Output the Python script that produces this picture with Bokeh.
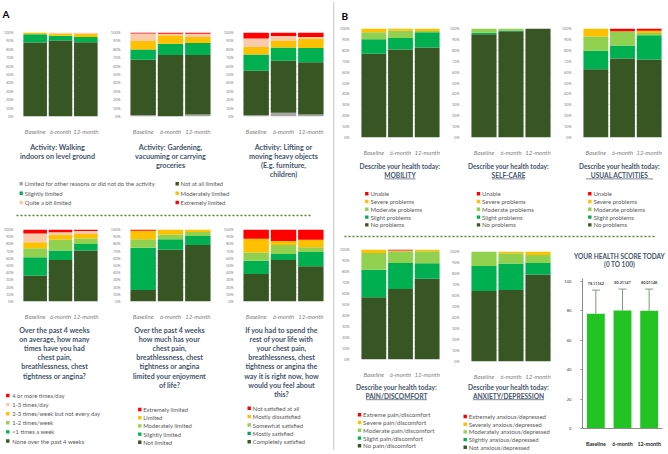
from bokeh.plotting import figure
from bokeh.models import (Range1d, FactorRange, FixedTicker, PrintfTickFormatter,
                          GridBox, ColumnDataSource, Whisker, TeeHead)
from bokeh.core.properties import value
from bokeh.embed import file_html
from bokeh.resources import INLINE

# ---------------- data ----------------
periods = ["Baseline", "6-month", "12-month"]
pct_ticks = [0, 10, 20, 30, 40, 50, 60, 70, 80, 90, 100]
score_ticks = [0, 20, 40, 60, 80, 100]

DARK, GREEN, LGREEN, YELLOW, PEACH, RED, GRAY = (
    "#375623", "#00b050", "#92d050", "#ffc000", "#f8cbad", "#ff0000", "#a6a6a6")

walk_other    = [0.0, 0.0, 0.0]
walk_not      = [88.0, 90.5, 88.5]
walk_slight   = [10.0, 5.5, 6.0]
walk_moderate = [2.0, 2.8, 4.0]
walk_quite    = [0.0, 1.2, 1.5]
walk_extreme  = [0.0, 0.0, 0.0]
gard_other    = [1.5, 0.0, 2.3]
gard_not      = [66.2, 73.3, 71.0]
gard_slight   = [12.0, 13.2, 14.3]
gard_moderate = [10.1, 10.1, 7.1]
gard_quite    = [9.1, 1.9, 3.8]
gard_extreme  = [1.1, 1.5, 1.5]
lift_other    = [1.5, 4.5, 2.3]
lift_not      = [53.0, 62.0, 62.4]
lift_slight   = [19.2, 15.5, 16.9]
lift_moderate = [9.0, 8.6, 11.3]
lift_quite    = [10.2, 5.3, 1.8]
lift_extreme  = [7.1, 4.1, 5.3]
activity_labels = ["Limited for other reasons or did not do the activity", "Not at all limited",
                   "Slightly limited", "Moderately limited", "Quite a bit limited", "Extremely limited"]

freq_none   = [35.9, 57.6, 71.0]
freq_lt1    = [25.6, 13.4, 8.7]
freq_1_2wk  = [12.5, 15.1, 7.7]
freq_2_3wk  = [8.3, 6.5, 6.5]
freq_1_3day = [12.1, 3.5, 3.9]
freq_4day   = [5.6, 3.9, 2.2]
freq_labels = ["4 or more times/day", "1-3 times/day", "2-3 times/week but not every day",
               "1-2 times/week", "<1 times a week", "None over the past 4 weeks"]
enj_not      = [16.0, 71.9, 78.4]
enj_slight   = [58.5, 14.7, 12.5]
enj_moderate = [12.1, 6.5, 5.6]
enj_limited  = [11.7, 6.9, 3.5]
enj_extreme  = [1.7, 0.0, 0.0]
enj_labels = ["Extremely limited", "Limited", "Moderately limited", "Slightly limited", "Not limited"]
sat_complete = [38.1, 57.6, 48.9]
sat_mostly   = [18.6, 8.2, 19.9]
sat_somewhat = [11.3, 12.6, 6.5]
sat_dissat   = [19.0, 5.6, 10.4]
sat_not      = [13.0, 16.0, 14.3]
sat_labels = ["Not satisfied at all", "Mostly dissatisfied", "Somewhat satisfied",
              "Mostly satisfied", "Completely satisfied"]

mob_none, mob_slight, mob_mod, mob_sev, mob_unable = (
    [76.9, 80.7, 82.5], [13.2, 10.5, 14.0], [6.4, 6.8, 1.2], [3.5, 2.0, 2.3], [0.0, 0.0, 0.0])
self_none, self_slight, self_mod, self_sev, self_unable = (
    [94.7, 97.4, 100.0], [1.5, 0.8, 0.0], [3.8, 1.8, 0.0], [0.0, 0.0, 0.0], [0.0, 0.0, 0.0])
usual_none, usual_slight, usual_mod, usual_sev, usual_unable = (
    [62.6, 72.5, 71.6], [16.9, 12.0, 22.3], [13.2, 12.9, 2.0], [7.3, 0.0, 2.1], [0.0, 2.6, 2.0])
pain_none, pain_slight, pain_mod, pain_sev, pain_ext = (
    [56.7, 64.0, 73.5], [25.0, 23.8, 14.0], [15.1, 10.7, 10.8], [3.2, 0.5, 1.7], [0.0, 1.0, 0.0])
anx_none, anx_slight, anx_mod, anx_sev, anx_ext = (
    [64.2, 65.1, 79.0], [22.7, 23.9, 10.5], [13.1, 9.5, 7.3], [0.0, 1.5, 3.2], [0.0, 0.0, 0.0])
eq_labels = ["Unable", "Severe problems", "Moderate problems", "Slight problems", "No problems"]
pain_labels = ["Extreme pain/discomfort", "Severe pain/discomfort", "Moderate pain/discomfort",
               "Slight pain/discomfort", "No pain/discomfort"]
anx_labels = ["Extremely anxious/depressed", "Severely anxious/depressed", "Moderately anxious/depressed",
              "Slightly anxious/depressed", "Not anxious/depressed"]

score_mean = [78.11162, 80.21147, 80.01148]
score_upper = [94.1, 94.8, 94.8]

# ---------------- layout helpers ----------------
FONT = "Lato"
TITLE_C = "#44546a"
LEG_C = "#595959"
DOT_C = "#548235"

items = []


def base_fig(x0, y0, x1, y1, **kw):
    p = figure(width=int(x1 - x0), height=int(y1 - y0), output_backend="svg",
               toolbar_location=None, title=None, **kw)
    p.outline_line_color = None
    p.background_fill_color = None
    p.border_fill_color = None
    items.append((p, x0, y0, x1, y1))
    return p


def text_fig(x0, y0, x1, y1):
    p = base_fig(x0, y0, x1, y1, x_range=Range1d(x0, x1), y_range=Range1d(y1, y0),
                 x_axis_location=None, y_axis_location=None, min_border=0,
                 min_border_left=0, min_border_right=0, min_border_top=0, min_border_bottom=0)
    p.xgrid.visible = False
    p.ygrid.visible = False
    return p


def txt(p, xs, ys, texts, size, color, style="normal", align="left"):
    p.text(x=xs, y=ys, text=texts, text_font=value(FONT), text_font_size=value(f"{size}px"),
           text_font_style=style, text_color=color, text_align=align, text_baseline="middle")


def title_lines(p, cx, y_start, step, lines, size):
    ys = [y_start + step * i for i in range(len(lines))]
    txt(p, [cx] * len(lines), ys, lines, size, TITLE_C, "bold", "center")


def legend(p, sq_x, tx_x, ys, labels, colors, size):
    n = len(labels)
    p.scatter(x=[sq_x] * n, y=ys, marker="square", size=3.4, fill_color=colors, line_color=None)
    txt(p, [tx_x] * n, ys, labels, size, LEG_C)


def stack_chart(rect, frame, series, colors, ystand=3):
    x0, y0, x1, y1 = rect
    fx0, fy0, fx1, fy1 = frame
    p = base_fig(x0, y0, x1, y1, x_range=FactorRange(*periods), y_range=Range1d(0, 100),
                 min_border_left=int(round(fx0 - x0)), min_border_right=int(round(x1 - fx1)),
                 min_border_top=int(round(fy0 - y0)), min_border_bottom=int(round(y1 - fy1)))
    data = {"period": periods}
    names = []
    for i, s in enumerate(series):
        data[f"s{i}"] = s
        names.append(f"s{i}")
    src = ColumnDataSource(data)
    p.vbar_stack(names, x="period", width=0.93, fill_color=colors, line_color=None, source=src)
    p.x_range.range_padding = 0
    p.yaxis.ticker = FixedTicker(ticks=pct_ticks)
    p.yaxis.formatter = PrintfTickFormatter(format="%d%%")
    p.yaxis.major_label_text_font_size = "3.8px"
    p.yaxis.major_label_text_font = FONT
    p.yaxis.major_label_text_color = "#7f7f7f"
    p.yaxis.axis_line_color = None
    p.yaxis.major_tick_line_color = None
    p.yaxis.minor_tick_line_color = None
    p.yaxis.major_label_standoff = ystand
    p.ygrid.ticker = FixedTicker(ticks=pct_ticks)
    p.ygrid.grid_line_color = "#d9d9d9"
    p.ygrid.grid_line_width = 0.6
    p.xgrid.grid_line_color = None
    p.xaxis.axis_line_color = None
    p.xaxis.major_tick_line_color = None
    p.xaxis.major_label_text_font = FONT
    p.xaxis.major_label_text_font_size = "6px"
    p.xaxis.major_label_text_font_style = "italic"
    p.xaxis.major_label_text_color = "#7f7f7f"
    p.xaxis.major_label_standoff = 5
    return p


# ---------------- panel A ----------------
ah = text_fig(1, 0, 330, 27)
txt(ah, [2], [13], ["A"], 10, "#000000", "bold")

act_colors = [GRAY, DARK, GREEN, YELLOW, PEACH, RED]
stack_chart((0, 28, 104, 137), (16, 32, 98, 121),
            [walk_other, walk_not, walk_slight, walk_moderate, walk_quite, walk_extreme], act_colors)
stack_chart((104, 28, 217, 137), (129, 32, 211, 121),
            [gard_other, gard_not, gard_slight, gard_moderate, gard_quite, gard_extreme], act_colors)
stack_chart((217, 28, 331, 137), (242, 32, 324, 121),
            [lift_other, lift_not, lift_slight, lift_moderate, lift_quite, lift_extreme], act_colors)

am = text_fig(1, 138, 330, 225)
title_lines(am, 57, 147, 9, ["Activity: Walking", "indoors on level ground"], 7.2)
title_lines(am, 170, 147, 9, ["Activity: Gardening,", "vacuuming or carrying", "groceries"], 7.2)
title_lines(am, 283, 147, 9, ["Activity: Lifting or", "moving heavy objects", "(E.g. furniture,", "children)"], 7.2)
legend(am, 20.7, 24.3, [183.3, 192.7, 202.0],
       [activity_labels[0], activity_labels[2], activity_labels[4]], [GRAY, GREEN, PEACH], 5.9)
legend(am, 176.7, 180.0, [183.3, 192.7, 202.0],
       [activity_labels[1], activity_labels[3], activity_labels[5]], [DARK, YELLOW, RED], 5.9)
am.segment(x0=[16], y0=[215], x1=[312], y1=[215], line_color=DOT_C, line_width=1.4, line_dash="2 2")

stack_chart((0, 226, 104, 322), (16, 229.3, 98, 306.3),
            [freq_none, freq_lt1, freq_1_2wk, freq_2_3wk, freq_1_3day, freq_4day],
            [DARK, GREEN, LGREEN, YELLOW, PEACH, RED])
stack_chart((104, 226, 217, 322), (129, 229.3, 211, 306.3),
            [enj_not, enj_slight, enj_moderate, enj_limited, enj_extreme],
            [DARK, GREEN, LGREEN, YELLOW, RED])
stack_chart((217, 226, 331, 322), (242, 229.3, 324, 306.3),
            [sat_complete, sat_mostly, sat_somewhat, sat_dissat, sat_not],
            [DARK, GREEN, LGREEN, YELLOW, RED])

ab = text_fig(1, 323, 330, 451)
title_lines(ab, 54, 330, 9.1, ["Over the past 4 weeks", "on average, how many", "times have you had",
                               "chest pain,", "breathlessness, chest", "tightness or angina?"], 7.1)
title_lines(ab, 169, 330, 9.1, ["Over the past 4 weeks", "how much has your", "chest pain,",
                                "breathlessness, chest", "tightness or angina", "limited your enjoyment",
                                "of life?"], 7.1)
title_lines(ab, 281, 330, 9.1, ["If you had to spend the", "rest of your life with", "your chest pain,",
                                "breathlessness, chest", "tightness or angina the", "way it is right now, how",
                                "would you feel about", "this?"], 7.1)
legend(ab, 7.3, 11.7, [395.0, 404.1, 413.2, 422.3, 431.4, 440.5], freq_labels,
       [RED, PEACH, YELLOW, LGREEN, GREEN, DARK], 5.9)
legend(ab, 139.3, 142.7, [409.0, 417.2, 425.4, 433.6, 441.8], enj_labels,
       [RED, YELLOW, LGREEN, GREEN, DARK], 5.9)
legend(ab, 248.7, 252.3, [407.7, 416.1, 424.5, 432.9, 441.3], sat_labels,
       [RED, YELLOW, LGREEN, GREEN, DARK], 5.9)

sep = text_fig(332, 1, 335, 451)
sep.segment(x0=[333.2], y0=[2], x1=[333.2], y1=[450], line_color="#a6a6a6", line_width=1.3, line_dash="1 1")

# ---------------- panel B ----------------
bh = text_fig(337, 0, 665, 23)
txt(bh, [341], [15], ["B"], 10, "#000000", "bold")

eq_colors = [DARK, GREEN, LGREEN, YELLOW, RED]
stack_chart((336, 24, 446, 158), (357, 28, 440, 142),
            [mob_none, mob_slight, mob_mod, mob_sev, mob_unable], eq_colors, 5)
stack_chart((446, 24, 557, 158), (469, 28, 551, 142),
            [self_none, self_slight, self_mod, self_sev, self_unable], eq_colors, 5)
stack_chart((557, 24, 666, 158), (581, 28, 662, 142),
            [usual_none, usual_slight, usual_mod, usual_sev, usual_unable], eq_colors, 5)

bm = text_fig(337, 159, 665, 243)
leg_cols = [RED, YELLOW, LGREEN, GREEN, DARK]
for cx, word, uw, sqx in [(399.5, "MOBILITY", 31, 366.3), (508, "SELF-CARE", 33, 478.0),
                          (619, "USUAL ACTIVITIES", 67, 589.3)]:
    title_lines(bm, cx, 165.7, 8.5, ["Describe your health today:", word], 6.6)
    bm.segment(x0=[cx - uw / 2], y0=[178.4], x1=[cx + uw / 2], y1=[178.4], line_color=TITLE_C, line_width=0.7)
    legend(bm, sqx, sqx + 3.6, [193.3, 201.0, 208.8, 216.6, 224.4], eq_labels, leg_cols, 6.0)
bm.segment(x0=[344], y0=[236], x1=[655], y1=[236], line_color=DOT_C, line_width=1.4, line_dash="2 2")

stack_chart((336, 244, 446, 380), (357, 248.7, 440, 363.3),
            [pain_none, pain_slight, pain_mod, pain_sev, pain_ext], eq_colors, 5)
stack_chart((446, 246, 557, 382), (469, 250.7, 551, 365.3),
            [anx_none, anx_slight, anx_mod, anx_sev, anx_ext], eq_colors, 5)

bb = text_fig(337, 383, 556, 451)
for cx, word, uw in [(396, "PAIN/DISCOMFORT", 61), (508, "ANXIETY/DEPRESSION", 71)]:
    title_lines(bb, cx, 386.6, 8.6, ["Describe your health today:", word], 6.6)
    bb.segment(x0=[cx - uw / 2], y0=[399.2], x1=[cx + uw / 2], y1=[399.2], line_color=TITLE_C, line_width=0.7)
legend(bb, 359.0, 362.6, [414.3, 422.0, 429.8, 437.6, 445.3], pain_labels, leg_cols, 6.2)
legend(bb, 464.7, 468.2, [416.0, 423.7, 431.4, 439.1, 446.7], anx_labels, leg_cols, 6.0)

ht = text_fig(558, 245, 665, 273)
title_lines(ht, 619, 256, 8.3, ["YOUR HEALTH SCORE TODAY", "(0 TO 100)"], 6.5)

hfx0, hfy0, hfx1, hfy1 = 582, 277.8, 665, 427.7
h = base_fig(557, 274, 666, 452, x_range=FactorRange(*periods), y_range=Range1d(0, 102),
             min_border_left=hfx0 - 557, min_border_right=666 - hfx1,
             min_border_top=int(round(hfy0 - 274)), min_border_bottom=int(round(452 - hfy1)))
h.x_range.range_padding = 0
hsrc = ColumnDataSource(dict(period=periods, mean=score_mean, upper=score_upper,
                             label=[f"{v:.5f}" for v in score_mean],
                             label_y=[u + 4.3 for u in score_upper]))
h.vbar(x="period", top="mean", width=0.67, fill_color="#22c322", line_color=None, source=hsrc)
h.add_layout(Whisker(source=hsrc, base="period", lower="mean", upper="upper", line_color="#7d9c7d",
                     line_width=1, upper_head=TeeHead(size=8, line_color="#7d9c7d", line_width=1),
                     lower_head=None))
h.text(x="period", y="label_y", text="label", source=hsrc, text_font=value(FONT),
       text_font_size=value("3.8px"), text_font_style="bold", text_color="#404040",
       text_align="center", text_baseline="middle")
h.xgrid.grid_line_color = None
h.ygrid.grid_line_color = None
h.yaxis.ticker = FixedTicker(ticks=score_ticks)
h.yaxis.major_label_text_font = FONT
h.yaxis.major_label_text_font_size = "4.2px"
h.yaxis.major_label_text_color = "#404040"
h.yaxis.axis_line_color = "#8c8c8c"
h.yaxis.major_tick_line_color = "#8c8c8c"
h.yaxis.major_tick_in = 0
h.yaxis.major_tick_out = 2
h.yaxis.minor_tick_line_color = None
h.yaxis.major_label_standoff = 9
h.xaxis.axis_line_color = "#8c8c8c"
h.xaxis.major_tick_line_color = None
h.xaxis.major_label_text_font = FONT
h.xaxis.major_label_text_font_size = "5.3px"
h.xaxis.major_label_text_font_style = "bold"
h.xaxis.major_label_text_color = "#262626"
h.xaxis.major_label_standoff = 6

# ---------------- grid assembly ----------------
xs = sorted({v for it in items for v in (it[1], it[3])})
ys = sorted({v for it in items for v in (it[2], it[4])})
cols = [f"{b - a}px" for a, b in zip(xs, xs[1:])]
rows = [f"{b - a}px" for a, b in zip(ys, ys[1:])]
children = []
for p, x0, y0, x1, y1 in items:
    r, c = ys.index(y0), xs.index(x0)
    children.append((p, r, c, ys.index(y1) - r, xs.index(x1) - c))

grid = GridBox(children=children, rows=rows, cols=cols, spacing=0)
open("out.html", "w").write(file_html(grid, INLINE))
